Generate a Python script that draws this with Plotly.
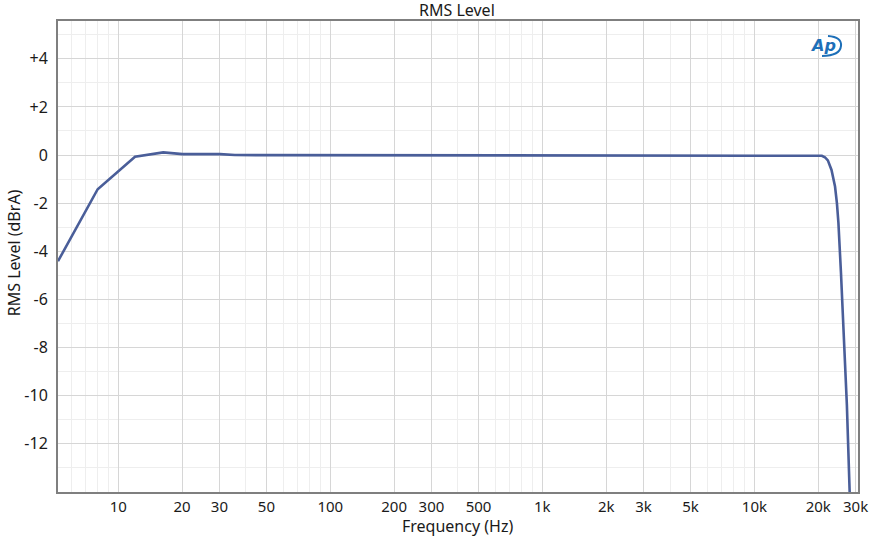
import numpy as np
import plotly.graph_objects as go

# frequency response (Hz, dBrA)
freq_hz = [5.2, 8.0, 12.0, 16.3, 20.1, 30.2, 35.5, 100, 1000, 10000, 20000,
           20800, 21500, 22200, 23100, 23600, 24000, 24500, 24900, 25600,
           26500, 27300, 28100, 28400]
level_db = [-4.41, -1.42, -0.07, 0.11, 0.04, 0.04, 0.0, 0.0, 0.0, 0.0, 0.0,
            -0.03, -0.09, -0.22, -0.62, -0.95, -1.31, -2.0, -2.82, -4.89,
            -7.64, -10.4, -13.86, -15.0]

x_tick_vals = [10, 20, 30, 50, 100, 200, 300, 500, 1000, 2000, 3000, 5000,
               10000, 20000, 30000]
x_tick_text = ["10", "20", "30", "50", "100", "200", "300", "500", "1k", "2k",
               "3k", "5k", "10k", "20k", "30k"]
x_minor_vals = [m * 10 ** d for d in range(0, 5) for m in range(1, 10)]

y_tick_vals = [-12, -10, -8, -6, -4, -2, 0, 2, 4]
y_tick_text = ["-12", "-10", "-8", "-6", "-4", "-2", "0", "+2", "+4"]
y_minor_vals = [-13, -11, -9, -7, -5, -3, -1, 1, 3, 5]

FONT = "Noto Sans"
TEXT = "#1a1a1a"
FS = 16
LOGO = "#1d6fb8"

fig = go.Figure()
fig.add_trace(go.Scatter(
    x=freq_hz, y=level_db, mode="lines",
    line=dict(color="#4a5e99", width=2.6),
    showlegend=False, hoverinfo="x+y",
))

fig.update_layout(
    width=894, height=537,
    margin=dict(l=58, r=36, t=21, b=45, autoexpand=False),
    paper_bgcolor="white", plot_bgcolor="white",
    font=dict(family=FONT, size=FS, color=TEXT),
    xaxis=dict(
        type="log", range=[np.log10(5.2), np.log10(30800)],
        tickmode="array", tickvals=x_tick_vals, ticktext=x_tick_text,
        showgrid=True, gridcolor="#d6d6d6", gridwidth=1,
        minor=dict(tickvals=x_minor_vals, showgrid=True, gridcolor="#eeeeee", ticks=""),
        showline=True, linecolor="#7f7f7f", linewidth=2, mirror=True,
        ticks="", zeroline=False, automargin=False,
        tickfont=dict(family=FONT, size=15, color=TEXT),
    ),
    yaxis=dict(
        range=[-14, 5.57],
        tickmode="array", tickvals=y_tick_vals, ticktext=y_tick_text,
        showgrid=True, gridcolor="#d6d6d6", gridwidth=1,
        minor=dict(tickvals=y_minor_vals, showgrid=True, gridcolor="#eeeeee", ticks=""),
        showline=True, linecolor="#7f7f7f", linewidth=2, mirror=True,
        ticks="outside", ticklen=5, tickcolor="rgba(0,0,0,0)", zeroline=False,
        automargin=False,
        tickfont=dict(family=FONT, size=FS, color=TEXT),
    ),
)

# titles placed as annotations to sit where the reference has them
fig.add_annotation(xref="paper", yref="paper", x=0.499, y=1.0, yshift=11,
                   yanchor="middle", showarrow=False, text="RMS Level",
                   font=dict(family=FONT, size=FS, color=TEXT))
fig.add_annotation(xref="paper", yref="paper", x=0.499, y=0, yshift=-34,
                   yanchor="middle", showarrow=False, text="Frequency (Hz)",
                   font=dict(family=FONT, size=FS, color=TEXT))
fig.add_annotation(xref="paper", yref="paper", x=0, xshift=-44, y=0.507,
                   xanchor="center", showarrow=False, textangle=-90,
                   text="RMS Level (dBrA)",
                   font=dict(family=FONT, size=FS, color=TEXT))

# AP logo stand-in: italic letters with a swoosh on the right
fig.add_annotation(
    xref="paper", yref="paper", x=0.96, y=0.947, xanchor="center", yanchor="middle",
    xshift=-3, showarrow=False,
    text="<b><i>Ap</i></b>", font=dict(family="DejaVu Sans", size=16, color=LOGO),
)
fig.add_shape(
    type="path", xref="paper", yref="paper", xsizemode="pixel", ysizemode="pixel",
    xanchor=0.96, yanchor=0.947,
    path="M 2,10 Q 16,9 15,0 Q 14,-10 -4,-10",
    line=dict(color=LOGO, width=2),
)

fig.write_html(
    "out.html",
    config={"displayModeBar": False},
    # drop the default 8px body margin so the figure sits at the window corner
    post_script="document.body.style.margin = '0px';",
)
